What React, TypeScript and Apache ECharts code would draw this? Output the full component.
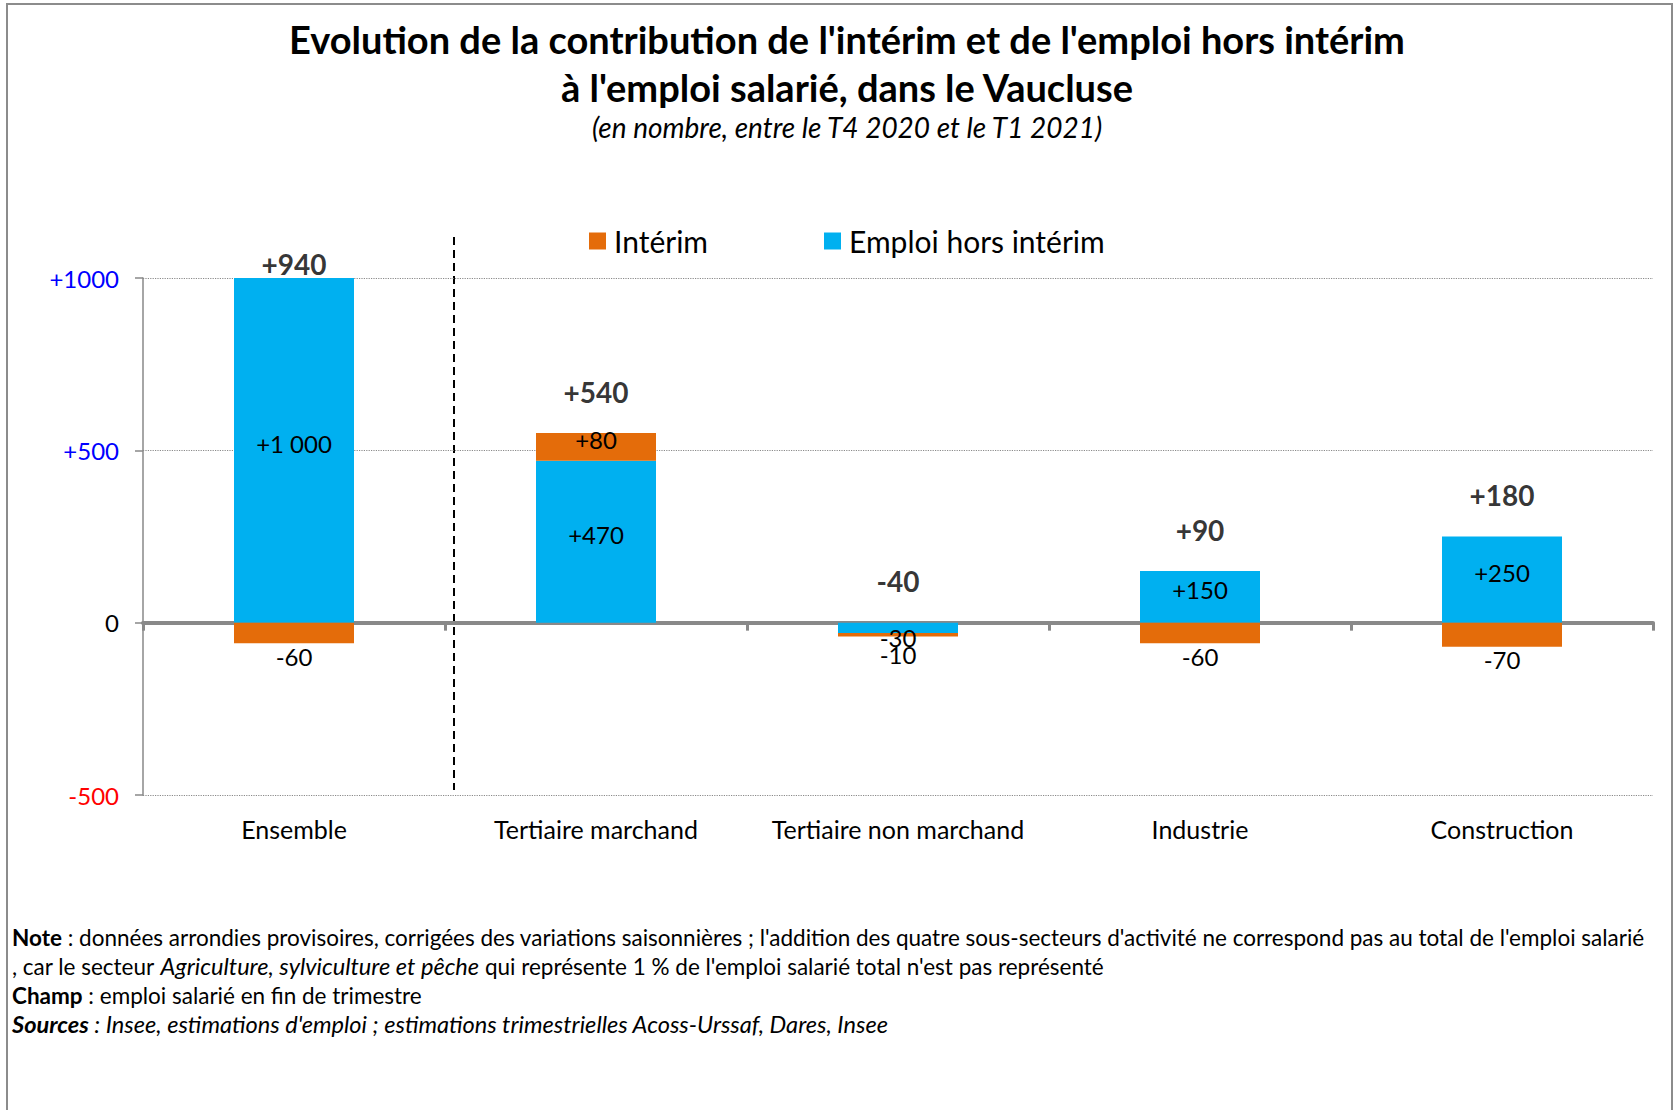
import React, { useEffect, useRef } from 'react';
import * as echarts from 'echarts';

// ---- Data ----
const categories = ['Ensemble', 'Tertiaire marchand', 'Tertiaire non marchand', 'Industrie', 'Construction'];
const emploiHorsInterim = [1000, 470, -30, 150, 250];
const interim = [-60, 80, -10, -60, -70];
const totals = [940, 540, -40, 90, 180];
const yTickValues = [-500, 0, 500, 1000];
const yTickColors = ['#FF0000', '#000000', '#0000FF', '#0000FF'];

const titleText = "Evolution de la contribution de l'intérim et de l'emploi hors intérim\nà l'emploi salarié, dans le Vaucluse";
const subtitleText = '(en nombre, entre le T4 2020 et le T1 2021)';
const noteLines = [
  "{b|Note} : données arrondies provisoires, corrigées des variations saisonnières ; l'addition des quatre sous-secteurs d'activité ne correspond pas au total de l'emploi salarié",
  ", car le secteur {i|Agriculture, sylviculture et pêche} qui représente 1 % de l'emploi salarié total n'est pas représenté",
  '{b|Champ} : emploi salarié en fin de trimestre',
  "{bi|Sources}{i| : Insee, estimations d'emploi ; estimations trimestrielles Acoss-Urssaf, Dares, Insee}",
];

const FONT = 'Lato, "Open Sans", sans-serif';
const BLUE = '#00B0F0';
const ORANGE = '#E46C0A';
const AXIS_GRAY = '#898989';
const NOTE_SIZE = 22.5;
const NOTE_ITALIC_SIZE = 23.6;

function fmt(v: number): string {
  const abs = Math.abs(v);
  const s = abs >= 1000 ? String(abs).replace(/\B(?=(\d{3})+(?!\d))/g, ' ') : String(abs);
  return (v > 0 ? '+' : v < 0 ? '-' : '') + s;
}

export default function App() {
  const ref = useRef<HTMLDivElement>(null);

  useEffect(() => {
    document.body.style.margin = '0';
    if (!ref.current) return;
    const chart = echarts.init(ref.current, undefined, { renderer: 'svg' });

    const totalAnchors = categories.map((_, i) => {
      const posTop = Math.max(0, emploiHorsInterim[i]) + Math.max(0, interim[i]);
      return Math.min(posTop + 120, 1040);
    });

    const positiveLabel = { position: 'inside', offset: [0, -7] };

    const blueData = emploiHorsInterim.map((v) => ({
      value: v,
      label: v < 0 ? { position: 'bottom', distance: -8 } : positiveLabel,
    }));
    const orangeData = interim.map((v, i) => ({
      value: v,
      label:
        v < 0
          ? { position: 'bottom', distance: emploiHorsInterim[i] < 0 ? 6 : 1 }
          : positiveLabel,
    }));

    const option: any = {
      animation: false,
      backgroundColor: '#ffffff',
      textStyle: { fontFamily: FONT },
      title: [
        {
          text: titleText,
          left: 842,
          top: 10,
          textAlign: 'center',
          textStyle: { fontFamily: FONT, fontSize: 38, fontWeight: 'bold', color: '#000', lineHeight: 48 },
        },
        {
          text: subtitleText,
          left: 842,
          top: 108,
          textAlign: 'center',
          textStyle: { fontFamily: FONT, fontSize: 28, fontStyle: 'italic', fontWeight: 'normal', color: '#000', lineHeight: 28 },
        },
      ],
      legend: {
        data: ['Intérim', 'Emploi hors intérim'],
        left: 584,
        top: 221,
        icon: 'rect',
        itemWidth: 17,
        itemHeight: 17,
        itemGap: 116,
        selectedMode: false,
        textStyle: { fontFamily: FONT, fontSize: 30, color: '#000', padding: [0, 0, 0, 3] },
      },
      grid: { left: 143, right: 21, top: 278, bottom: 315, containLabel: false },
      xAxis: [
        {
          type: 'category',
          data: categories,
          position: 'bottom',
          axisLine: { show: false, onZero: false },
          axisTick: { show: false },
          axisLabel: { fontFamily: FONT, fontSize: 25, color: '#000', margin: 21, interval: 0 },
          splitLine: { show: false },
        },
        {
          type: 'category',
          data: categories,
          position: 'bottom',
          axisLine: { show: true, onZero: true, lineStyle: { color: AXIS_GRAY, width: 4 } },
          axisTick: { show: true, length: 8, lineStyle: { color: AXIS_GRAY, width: 3 } },
          axisLabel: { show: false },
          splitLine: { show: false },
        },
      ],
      yAxis: {
        type: 'value',
        min: -500,
        max: 1000,
        interval: 500,
        axisLine: { show: true, lineStyle: { color: AXIS_GRAY, width: 1.5 } },
        axisTick: { show: true, length: 8, lineStyle: { color: AXIS_GRAY, width: 1.5 } },
        axisLabel: {
          fontFamily: FONT,
          fontSize: 24,
          margin: 24,
          formatter: (v: number) => (v > 0 ? '+' + v : String(v)),
          color: (v: any) => {
            const idx = yTickValues.indexOf(Number(v));
            return idx >= 0 ? yTickColors[idx] : '#000';
          },
        },
        splitLine: { show: true, lineStyle: { color: '#8a8a8a', type: 'dotted', width: 1.2 } },
      },
      series: [
        {
          name: 'Emploi hors intérim',
          type: 'bar',
          stack: 'contrib',
          xAxisIndex: 0,
          barWidth: 120,
          itemStyle: { color: BLUE },
          label: {
            show: true,
            fontFamily: FONT,
            fontSize: 24,
            color: '#000',
            formatter: (p: any) => fmt(p.value),
          },
          data: blueData,
        },
        {
          name: 'Intérim',
          type: 'bar',
          stack: 'contrib',
          xAxisIndex: 0,
          barWidth: 120,
          itemStyle: { color: ORANGE },
          label: {
            show: true,
            fontFamily: FONT,
            fontSize: 24,
            color: '#000',
            formatter: (p: any) => fmt(p.value),
          },
          data: orangeData,
        },
        {
          name: 'Total',
          type: 'scatter',
          xAxisIndex: 0,
          clip: false,
          silent: true,
          symbolSize: 1,
          itemStyle: { color: 'rgba(0,0,0,0)' },
          label: {
            show: true,
            position: 'inside',
            fontFamily: FONT,
            fontSize: 28,
            fontWeight: 'bold',
            color: '#000',
            formatter: (p: any) => fmt(totals[p.dataIndex]),
          },
          data: totalAnchors,
        },
      ],
      graphic: [
        {
          type: 'rect',
          silent: true,
          shape: { x: 7, y: 4, width: 1665, height: 1130 },
          style: { fill: 'none', stroke: '#8c8c8c', lineWidth: 2 },
        },
        {
          type: 'line',
          silent: true,
          shape: { x1: 454, y1: 237, x2: 454, y2: 790 },
          style: { stroke: '#000', lineWidth: 2, lineDash: [8, 5] },
        },
        ...noteLines.map((line, i) => ({
          type: 'text',
          silent: true,
          x: 12,
          y: 937 + i * 29,
          style: {
            text: line,
            fontFamily: FONT,
            fontSize: NOTE_SIZE,
            fill: '#000',
            verticalAlign: 'middle',
            rich: {
              b: { fontFamily: FONT, fontSize: NOTE_SIZE, fontWeight: 'bold', fill: '#000' },
              i: { fontFamily: FONT, fontSize: NOTE_ITALIC_SIZE, fontStyle: 'italic', fill: '#000' },
              bi: { fontFamily: FONT, fontSize: NOTE_ITALIC_SIZE, fontStyle: 'italic', fontWeight: 'bold', fill: '#000' },
            },
          },
        })),
      ],
    };

    chart.setOption(option);
    return () => chart.dispose();
  }, []);

  return <div ref={ref} style={{ width: 1674, height: 1110 }} />;
}
